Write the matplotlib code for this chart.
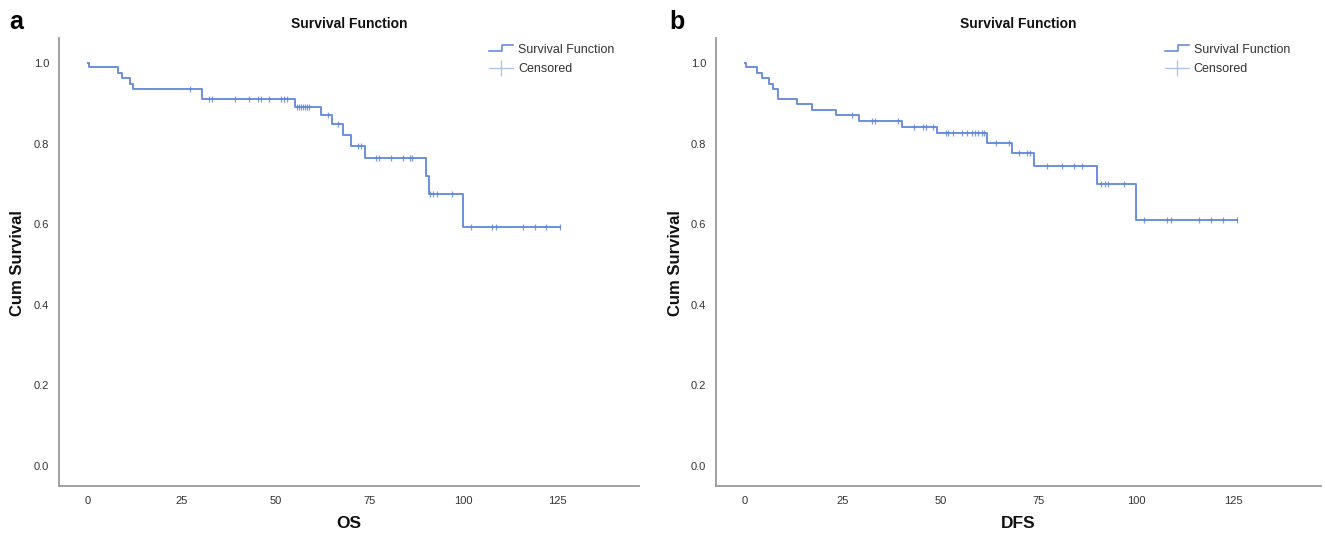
import numpy as np
import matplotlib
matplotlib.use("Agg")
import matplotlib.pyplot as plt
from matplotlib.lines import Line2D
from matplotlib.legend_handler import HandlerBase

plt.rcParams['font.family'] = ['Liberation Sans', 'DejaVu Sans']

# ---- Panel a: OS ----
os_event_t = [0.4, 8.1, 9.0, 11.2, 12.0, 30.3, 55.0, 62.0, 65.0, 67.8, 69.9, 73.8, 90.0, 90.9, 99.9]
os_event_s = [0.990, 0.975, 0.962, 0.949, 0.936, 0.910, 0.892, 0.871, 0.848, 0.822, 0.795, 0.765, 0.720, 0.675, 0.592]
os_censor_t = [27.2, 32.2, 33.1, 39.1, 42.9, 45.3, 46.0, 48.1, 51.3, 52.2, 53.1,
               55.6, 56.2, 56.7, 57.2, 57.8, 58.3, 58.8, 63.8, 66.7, 71.8, 72.7,
               76.8, 77.5, 80.8, 83.8, 85.7, 86.2, 91.0, 91.9, 92.8, 96.8,
               101.9, 107.7, 108.5, 115.7, 119.0, 121.9, 125.6]

# ---- Panel b: DFS ----
dfs_event_t = [0.3, 3.2, 4.3, 6.2, 7.2, 8.4, 13.4, 17.2, 23.3, 29.2, 40.1, 49.2, 62.0, 68.2, 74.0, 90.1, 100.0]
dfs_event_s = [0.990, 0.975, 0.962, 0.949, 0.936, 0.910, 0.897, 0.884, 0.870, 0.857, 0.842, 0.826, 0.802, 0.776, 0.745, 0.700, 0.611]
dfs_censor_t = [27.4, 32.4, 33.2, 39.2, 43.2, 45.6, 46.3, 48.2, 51.4, 52.0, 53.1, 55.4,
                56.7, 58.0, 58.8, 59.7, 60.5, 61.1, 64.2, 67.4, 70.2, 72.1, 72.9,
                77.2, 81.0, 84.2, 86.1, 91.0, 92.1, 92.9, 97.0,
                102.0, 108.0, 108.9, 116.2, 119.1, 122.2, 125.9]

x_ticks = [0, 25, 50, 75, 100, 125]
y_ticks = [0.0, 0.2, 0.4, 0.6, 0.8, 1.0]

LINE_C = '#5b84d8'
CENS_C = '#5b84d8'
LEG_CENS_C = '#a9c0ea'
SPINE_C = '#9a9a9a'
TEXT_C = '#333333'
LABEL_C = '#111111'


class StepHandler(HandlerBase):
    def create_artists(self, legend, orig_handle, xdescent, ydescent, width, height, fontsize, trans):
        x0 = -xdescent
        y0 = -ydescent
        xs = [x0, x0 + width * 0.55, x0 + width * 0.55, x0 + width]
        ys = [y0 + height * 0.2, y0 + height * 0.2, y0 + height * 0.9, y0 + height * 0.9]
        ln = Line2D(xs, ys, color=LINE_C, lw=1.1, transform=trans)
        return [ln]


def km_panel(ax, ev_t, ev_s, cen_t):
    end_t = max(max(cen_t), max(ev_t))
    xs = [0.0] + list(ev_t) + [end_t]
    ys = [1.0] + list(ev_s) + [ev_s[-1]]
    ax.step(xs, ys, where='post', color=LINE_C, lw=1.4, alpha=0.9)
    ev_t_arr = np.array(ev_t)
    ev_s_arr = np.array(ev_s)
    cy = []
    for t in cen_t:
        idx = np.searchsorted(ev_t_arr, t, side='right') - 1
        cy.append(1.0 if idx < 0 else ev_s_arr[idx])
    ax.plot(cen_t, cy, linestyle='none', marker='|', markersize=5, markeredgewidth=0.9,
            color=CENS_C, alpha=0.8)

    ax.set_ylim(-0.0496, 1.062)
    ax.set_xticks(x_ticks)
    ax.set_yticks(y_ticks)
    ax.set_yticklabels([f'{v:.1f}' for v in y_ticks])
    for s in ['top', 'right']:
        ax.spines[s].set_visible(False)
    for s in ['left', 'bottom']:
        ax.spines[s].set_color(SPINE_C)
        ax.spines[s].set_linewidth(1.3)
    ax.tick_params(axis='both', length=0, labelsize=8, colors=TEXT_C)
    ax.tick_params(axis='x', pad=7)
    ax.tick_params(axis='y', pad=7)

    h1 = Line2D([], [], color=LINE_C)
    h2 = Line2D([], [], color=LEG_CENS_C, lw=0.9, marker='|', markersize=12, markeredgewidth=0.9)
    leg = ax.legend([h1, h2], ['Survival Function', 'Censored'], loc='upper left',
                    bbox_to_anchor=(0.742, 0.987), frameon=False, fontsize=9,
                    handler_map={h1: StepHandler()}, handlelength=1.9, handletextpad=0.4,
                    labelspacing=0.6, borderaxespad=0.0, borderpad=0.0)
    for t in leg.get_texts():
        t.set_color(TEXT_C)


fig = plt.figure(figsize=(13.25, 5.34), dpi=100)
W, H = 1325.0, 534.0

ax_a = fig.add_axes([59 / W, (H - 486) / H, 580 / W, 448 / H])
ax_b = fig.add_axes([716 / W, (H - 486) / H, 605 / W, 448 / H])

km_panel(ax_a, os_event_t, os_event_s, os_censor_t)
ax_a.set_xlim(-7.7, 146.7)
km_panel(ax_b, dfs_event_t, dfs_event_s, dfs_censor_t)
ax_b.set_xlim(-7.4, 147.3)

for cx, xlab in [(349, 'OS'), (1018, 'DFS')]:
    fig.text(cx / W, 1 - 24 / H, 'Survival Function', ha='center', va='center',
             fontsize=10, fontweight='bold', color=LABEL_C)
    fig.text(cx / W, 1 - 523 / H, xlab, ha='center', va='center',
             fontsize=12.5, fontweight='bold', color=LABEL_C)

for yx in [18, 676]:
    fig.text(yx / W, 1 - 263 / H, 'Cum Survival', ha='center', va='center', rotation=90,
             fontsize=12, fontweight='bold', color=LABEL_C)

fig.text(16 / W, 1 - 22 / H, 'a', ha='center', va='center', fontsize=18, fontweight='bold')
fig.text(677 / W, 1 - 22 / H, 'b', ha='center', va='center', fontsize=18, fontweight='bold')

fig.savefig('out.png', dpi=100)
